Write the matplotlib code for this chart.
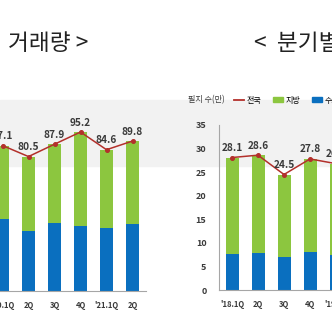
import matplotlib
matplotlib.use('Agg')
import matplotlib.pyplot as plt
from matplotlib.patches import Rectangle, Patch
from matplotlib.lines import Line2D

plt.rcParams['font.family'] = ['Noto Sans CJK KR', 'DejaVu Sans']

# 왼쪽: 최근 분기 거래량 (만 필지)
left_cats = ["'20.1Q", '2Q', '3Q', '4Q', "'21.1Q", '2Q']
left_total = [87.1, 80.5, 87.9, 95.2, 84.6, 89.8]
left_capital = [43.1, 35.9, 40.7, 38.9, 37.7, 40.1]

# 오른쪽: 분기별 (만 필지)
right_cats = ["'18.1Q", '2Q', '3Q', '4Q', "'19.1Q"]
right_total = [28.1, 28.6, 24.5, 27.8, 26.8]
right_capital = [7.6, 7.8, 7.0, 8.1, 7.4]

GREEN = '#8cc63f'
BLUE = '#0a6fbf'
RED = '#b3302b'
TXT = '#3a3a3a'
W = H = 332.0

def px_axes(fig, left, top, width, height):
    # pixel box (from top-left) -> figure fraction
    return fig.add_axes([left / W, (H - top - height) / H, width / W, height / H])

def draw(ax, cats, total, capital, ymax):
    x = list(range(len(cats)))
    rest = [t - c for t, c in zip(total, capital)]
    ax.bar(x, capital, width=0.5, color=BLUE, zorder=2)
    ax.bar(x, rest, width=0.5, bottom=capital, color=GREEN, zorder=2)
    ax.plot(x, total, color=RED, lw=1.1, marker='o', ms=2.6, zorder=3)
    for xi, t in zip(x, total):
        ax.annotate('%.1f' % t, (xi, t), xytext=(0, 3.2), textcoords='offset points',
                    ha='center', va='bottom', fontsize=7.3, fontweight='bold', color=TXT)
    ax.set_xlim(-0.5, len(cats) - 0.5)
    ax.set_ylim(0, ymax)
    ax.set_xticks(x)
    ax.set_xticklabels(cats, fontsize=5.5, fontweight='bold', color=TXT)
    ax.tick_params(length=0, pad=7)
    ax.patch.set_alpha(0)
    for s in ['top', 'right']:
        ax.spines[s].set_visible(False)
    for s in ['left', 'bottom']:
        ax.spines[s].set_color('#a6a6a6')
        ax.spines[s].set_linewidth(0.8)

fig = plt.figure(figsize=(3.32, 3.32), dpi=100)

# 배경의 회색 띠
band = Rectangle((0, (H - 166) / H), 1, 66 / H, transform=fig.transFigure,
                 color='#f2f2f2', zorder=-5)
fig.patches.append(band)

ax1 = px_axes(fig, -10.5, 124, 156, 167)
draw(ax1, left_cats, left_total, left_capital, 100)
ax1.set_yticks([])

ax2 = px_axes(fig, 219, 125, 130, 165)
draw(ax2, right_cats, right_total, right_capital, 35)
ax2.set_yticks(range(0, 36, 5))
ax2.tick_params(axis='y', labelsize=6.5, pad=9)
for lab in ax2.get_yticklabels():
    lab.set_fontweight('bold')
    lab.set_color(TXT)

fig.text(8 / W, 1 - 44 / H, '거래량 >', fontsize=16.3, color='#222222',
         ha='left', va='center')
fig.text(254 / W, 1 - 44 / H, '<  분기별 토지 거래량 >', fontsize=16.3, color='#222222',
         ha='left', va='center')

fig.text(188 / W, 1 - 100 / H, '필지 수(만)', fontsize=5.8, color=TXT, va='center')
handles = [Line2D([], [], color=RED, lw=1.3),
           Patch(color=GREEN), Patch(color=BLUE)]
fig.legend(handles, ['전국', '지방', '수도권'], loc='center left',
           bbox_to_anchor=(234 / W, 1 - 100 / H), ncol=3, frameon=False,
           fontsize=5.8, handlelength=1.3, handleheight=0.6, handletextpad=0.3,
           columnspacing=1.4, borderpad=0, borderaxespad=0)

fig.savefig('out.png', dpi=100)
